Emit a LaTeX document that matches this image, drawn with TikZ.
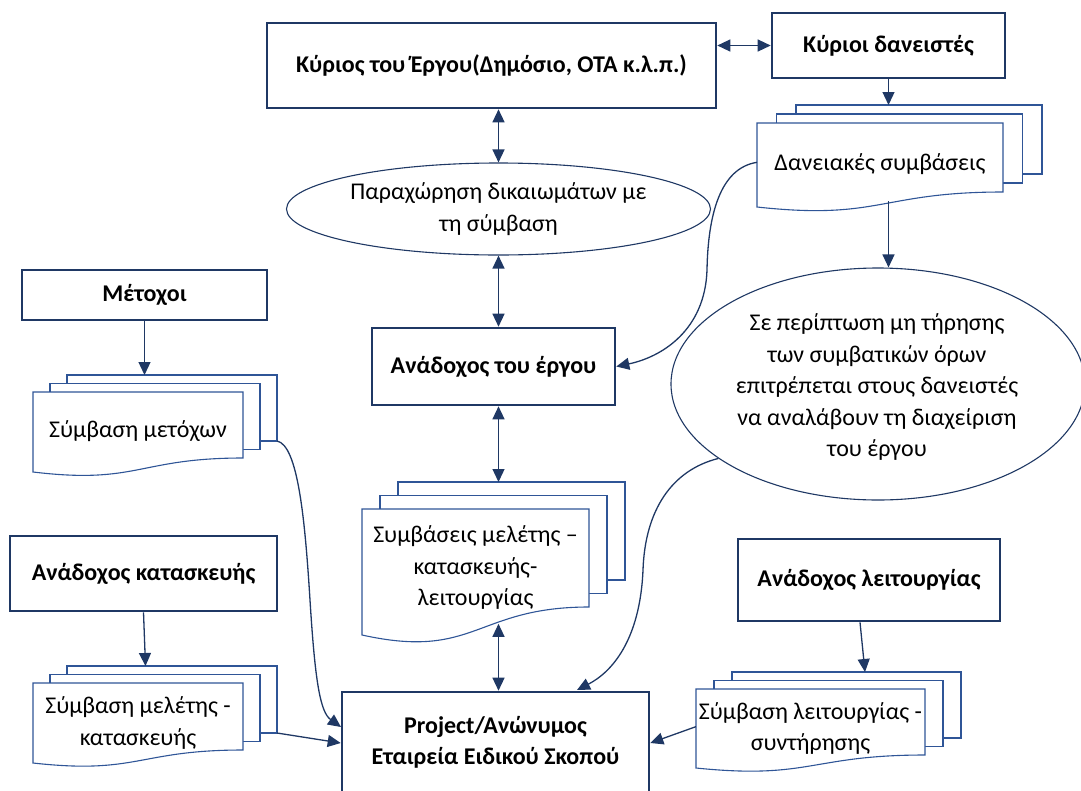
\documentclass[tikz,border=0pt]{standalone}
\usepackage{fontspec}
\setmainfont{Carlito}
\usetikzlibrary{arrows.meta,shapes.geometric}
\definecolor{navy}{HTML}{1F3864}
\definecolor{docblue}{HTML}{2F5597}

\tikzset{
  box/.style={draw=navy, line width=2.6pt, fill=white, inner sep=0pt,
    align=center, font=\fontsize{24}{31}\selectfont\bfseries},
  doc/.style={draw=docblue, line width=1.1pt, fill=white},
  doctext/.style={inner sep=0pt, align=center, font=\fontsize{24}{31.5}\selectfont},
  oval/.style={draw=navy, line width=1.1pt, ellipse, inner sep=0pt},
  arr/.style={draw=navy, line width=1.3pt, -{Triangle[length=13pt,width=12pt]}},
  dbl/.style={draw=navy, line width=1.3pt,
    {Triangle[length=13pt,width=12pt]}-{Triangle[length=13pt,width=12pt]}},
}

% stack of three documents: name, left, top, width, straight height,
% wave depth, layer shift x, layer shift y, text
\newcommand\multidoc[9]{%
  \draw[doc] (#2+2*#7,#3-2*#8) rectangle ++(#4,#5);
  \draw[doc] (#2+#7,#3-#8) rectangle ++(#4,#5);
  \draw[doc] (#2,#3) -- ++(#4,0) -- ++(0,#5)
    .. controls (#2+#4/2,#3+#5) and (#2+#4/2,#3+#5+1.9*#6) .. (#2,#3+#5+#6) -- cycle;
  \coordinate (#1-top) at (#2+2*#7+#4/2,#3-2*#8);
  \coordinate (#1-br) at (#2+2*#7+#4,#3-2*#8+#5);
  \coordinate (#1-w) at (#2,#3+0.57*#5);
  \coordinate (#1-s) at (#2+#4/2,#3+#5+0.6*#6);
  \node[doctext] (#1) at (#2+#4/2,#3+0.6*#5) {#9};
}

\begin{document}
\begin{tikzpicture}[x=1pt,y=-1pt]
\useasboundingbox (0,0) rectangle (1081,790);
\clip (0,0) rectangle (1081,790);

% parties
\node[box, minimum width=449, minimum height=85] (owner) at (491.5,65.5)
  {Κύριος του Έργου(Δημόσιο, ΟΤΑ κ.λ.π.)};
\node[box, minimum width=233, minimum height=65] (lenders) at (888.5,45.5)
  {Κύριοι δανειστές};
\node[box, minimum width=243, minimum height=77] (concess) at (493.5,366.5)
  {Ανάδοχος του έργου};
\node[box, minimum width=245, minimum height=50] (share) at (144.5,295)
  {Μέτοχοι};
\node[box, minimum width=267, minimum height=75] (builder) at (143.5,573.5)
  {Ανάδοχος κατασκευής};
\node[box, minimum width=262, minimum height=82] (operator) at (869,580)
  {Ανάδοχος λειτουργίας};
\node[box, minimum width=307, minimum height=100] (spv) at (495.5,742)
  {Project/Ανώνυμος\\Εταιρεία Ειδικού Σκοπού};

% ellipses
\node[oval, minimum width=424, minimum height=92] (grant) at (498.5,209) {};
\node[doctext] (granttext) at (grant) {Παραχώρηση δικαιωμάτων με\\τη σύμβαση};
\node[oval, minimum width=414, minimum height=232] (stepin) at (878,384) {};
\node[doctext] (stepintext) at (877,387)
  {Σε περίπτωση μη τήρησης\\των συμβατικών όρων\\επιτρέπεται στους δανειστές\\να αναλάβουν τη διαχείριση\\του έργου};

% contract stacks
\multidoc{loans}{757}{123}{246}{69}{15}{19.5}{9}{Δανειακές συμβάσεις}
\multidoc{shareag}{33}{392}{210}{66}{14}{17}{8.5}{Σύμβαση μετόχων}
\multidoc{dbo}{362}{509}{227}{98}{28}{18}{13.5}{Συμβάσεις μελέτης –\\κατασκευής-\\λειτουργίας}
\multidoc{dbag}{33}{683}{210}{67}{13}{17}{8.5}{Σύμβαση μελέτης -\\κατασκευής}
\multidoc{omag}{696}{689}{229}{66}{13}{18}{8.5}{Σύμβαση λειτουργίας -\\συντήρησης}

% straight connectors
\draw[dbl] (owner.east |- lenders) -- (lenders.west);
\draw[dbl] (owner.south -| grant.north) -- (grant.north);
\draw[dbl] (grant.south) -- (grant.south |- concess.north);
\draw[dbl] (concess.south -| grant.south) -- (grant.south |- dbo-top);
\draw[dbl] (grant.south |- dbo-s) -- (grant.south |- spv.north);
\draw[arr] (lenders.south) -- (lenders.south |- loans-top);
\draw[arr] (lenders.south |- loans-s) -- (lenders.south |- stepin.north);
\draw[arr] (share.south) -- (share.south |- shareag-top);
\draw[arr] (builder.south) -- ([xshift=2pt]builder.south |- dbag-top);
\draw[arr] ([xshift=-9pt]operator.south) -- ([xshift=-4pt]operator.south |- omag-top);
\draw[arr] (dbag-br) -- ([yshift=-1pt]spv.west);
\draw[arr] (omag-w) -- ([yshift=-1pt]spv.east);

% curved connectors
\draw[arr] (loans-w) .. controls (720,168) and (708,215) .. (707,270)
  .. controls (705,330) and (662,357) .. (concess.east);
\draw[arr] (stepin.205) .. controls (672,470) and (645,510) .. (643,570)
  .. controls (640,640) and (612,672) .. (577,690);
\draw[arr] (shareag-br) .. controls (298,445) and (305,520) .. (310,600)
  .. controls (315,680) and (320,712) .. (341,727);
\end{tikzpicture}
\end{document}
